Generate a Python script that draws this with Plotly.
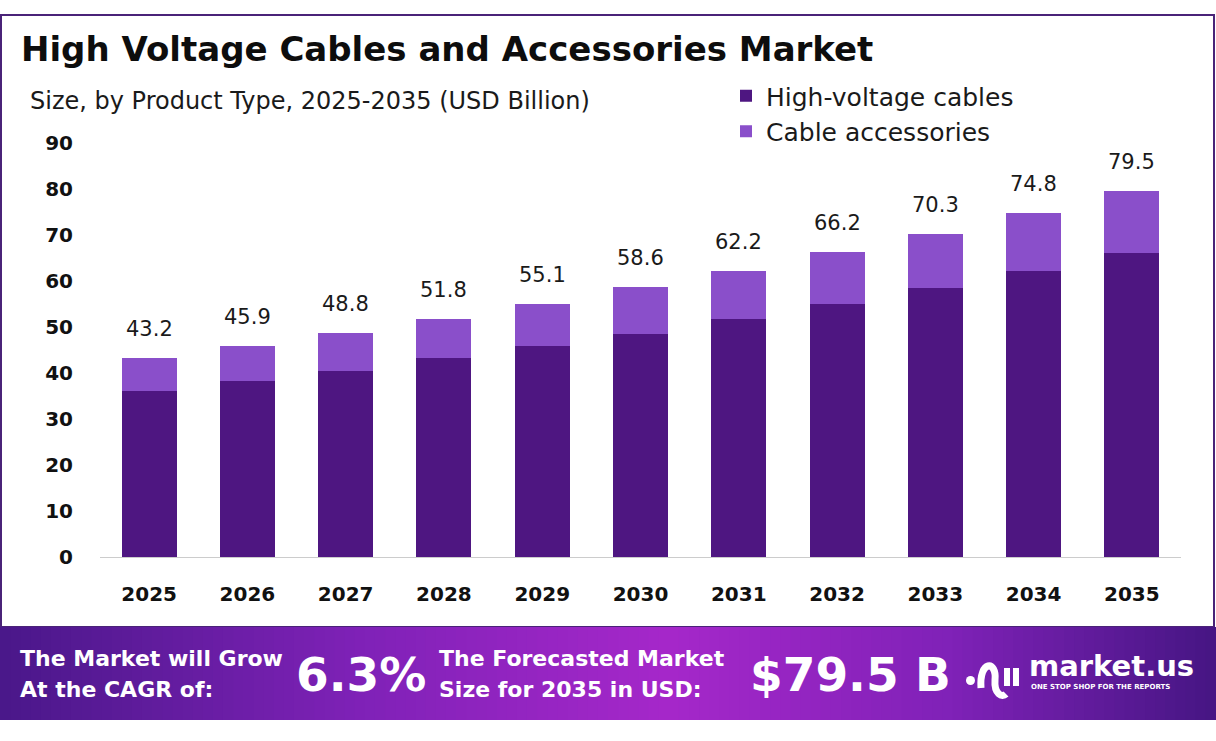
import plotly.graph_objects as go

years = ["2025", "2026", "2027", "2028", "2029", "2030", "2031", "2032", "2033", "2034", "2035"]
totals = [43.2, 45.9, 48.8, 51.8, 55.1, 58.6, 62.2, 66.2, 70.3, 74.8, 79.5]
cables = [36.0, 38.2, 40.5, 43.2, 45.8, 48.4, 51.7, 54.9, 58.4, 62.2, 66.0]
accessories = [round(t - c, 1) for t, c in zip(totals, cables)]
y_ticks = [0, 10, 20, 30, 40, 50, 60, 70, 80, 90]

W, H = 1216, 741
L, R, T, B = 100, 35, 143, 184
PW, PH = W - L - R, H - T - B

def px(x):
    return (x - L) / PW

def py(y):
    return (H - B - y) / PH

FONT = "DejaVu Sans"
C_CABLE = "#4E1681"
C_ACC = "#8A4FCA"

fig = go.Figure()
fig.add_trace(go.Bar(x=years, y=cables, name="High-voltage cables", marker=dict(color=C_CABLE, line=dict(width=0))))
fig.add_trace(go.Bar(x=years, y=accessories, name="Cable accessories", marker=dict(color=C_ACC, line=dict(width=0))))

annotations = []
for i, t in enumerate(totals):
    annotations.append(dict(x=i, y=t, xref="x", yref="y", text=f"{t}", showarrow=False, yanchor="bottom", yshift=15,
                            font=dict(family=FONT, size=21, color="#1a1a1a")))

shapes = []
# outer card border
shapes.append(dict(type="rect", xref="paper", yref="paper", x0=px(1), x1=px(1214), y0=py(627), y1=py(15),
                   line=dict(color="#4A2378", width=2), fillcolor="rgba(0,0,0,0)", layer="below"))
# banner gradient
stops = [(0.0, (74, 24, 138)), (0.3, (128, 34, 184)), (0.55, (166, 40, 202)), (0.78, (128, 34, 184)), (1.0, (70, 22, 132))]

def grad(f):
    for i in range(len(stops) - 1):
        a, ca = stops[i]
        b, cb = stops[i + 1]
        if a <= f <= b:
            u = (f - a) / (b - a)
            return "rgb(%d,%d,%d)" % tuple(int(ca[k] + (cb[k] - ca[k]) * u) for k in range(3))
    return "rgb(70,22,132)"

N = 120
for i in range(N):
    x0 = W * i / N
    x1 = W * (i + 1) / N + 1
    shapes.append(dict(type="rect", xref="paper", yref="paper", x0=px(x0), x1=px(x1), y0=py(720), y1=py(627),
                       line=dict(width=0), fillcolor=grad((i + 0.5) / N), layer="below"))

# logo icon
shapes.append(dict(type="circle", xref="paper", yref="paper", x0=px(966), x1=px(975), y0=py(685), y1=py(676),
                   fillcolor="white", line=dict(width=0)))
path = "M %f,%f C %f,%f %f,%f %f,%f C %f,%f %f,%f %f,%f" % (
    px(981), py(688), px(979), py(660), px(997), py(660), px(995), py(680),
    px(994), py(694), px(1002), py(698), px(1006), py(694))
shapes.append(dict(type="path", xref="paper", yref="paper", path=path, line=dict(color="white", width=7)))
for xx in (1007, 1016):
    shapes.append(dict(type="line", xref="paper", yref="paper", x0=px(xx), x1=px(xx), y0=py(686), y1=py(668),
                       line=dict(color="white", width=6)))

def txt(x, y, s, size, weight=700, anchor="left", color="white", family=FONT):
    annotations.append(dict(xref="paper", yref="paper", x=px(x), y=py(y), text=s, showarrow=False,
                            xanchor=anchor, yanchor="middle", align="left",
                            font=dict(family=family, size=size, color=color, weight=weight)))

txt(18, 658, "The Market will Grow", 22)
txt(18, 689, "At the CAGR of:", 22)
txt(294, 674, "6.3%", 47, 800)
txt(437, 658, "The Forecasted Market", 22)
txt(437, 689, "Size for 2035 in USD:", 22)
txt(748, 674, "$79.5 B", 47, 800)
txt(1027, 666, "market.us", 29, 800)
txt(1029, 687, "ONE STOP SHOP FOR THE REPORTS", 7, 700)

# subtitle
txt(28, 101, "Size, by Product Type, 2025-2035 (USD Billion)", 24, 400, color="#1a1a1a")

fig.update_layout(
    width=W, height=H,
    margin=dict(l=L, r=R, t=T, b=B, autoexpand=False),
    paper_bgcolor="white", plot_bgcolor="white",
    barmode="stack", bargap=0.44,
    title=dict(text="<b>High Voltage Cables and Accessories Market</b>", xref="container", yref="container",
               x=21 / W, xanchor="left", y=1 - 49 / H, yanchor="middle",
               font=dict(family=FONT, size=34, color="#0d0d0d", weight=800)),
    legend=dict(x=px(726), xanchor="left", y=py(73), yanchor="top",
                traceorder="normal", font=dict(family=FONT, size=25, color="#1a1a1a"),
                bgcolor="rgba(0,0,0,0)", itemclick=False),
    xaxis=dict(type="category", range=[-0.5, 10.5], showgrid=False, showline=True, linecolor="#cccccc", linewidth=1,
               ticks="", tickfont=dict(family=FONT, size=20, color="#111111", weight=700), ticklabelstandoff=19,
               fixedrange=True),
    yaxis=dict(range=[0, 90], tickvals=y_ticks, showgrid=False, zeroline=False, showline=False, ticks="",
               tickfont=dict(family=FONT, size=20, color="#111111", weight=700), ticklabelstandoff=26,
               fixedrange=True),
    annotations=annotations,
    shapes=shapes,
)

fig.write_html("out.html", config={"displayModeBar": False},
               post_script="document.body.style.margin='0';")
